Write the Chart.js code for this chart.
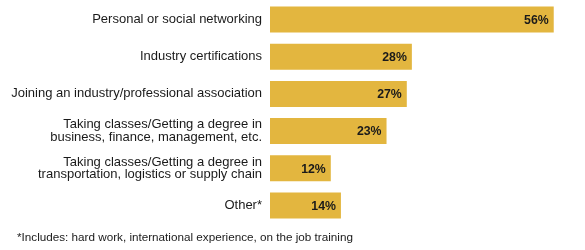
<!DOCTYPE html>
<html>
<head>
<meta charset="utf-8">
<script src="https://cdn.jsdelivr.net/npm/chart.js@4/dist/chart.umd.min.js"></script>
<style>
  html, body { margin: 0; padding: 0; background: #fff; }
  #wrap { width: 585px; height: 250px; position: relative; }
  #note {
    position: absolute; left: 17px; top: 230px;
    font: 11.7px 'Liberation Sans', Arial, Helvetica, sans-serif;
    line-height: 14px; color: #1a1a1a; white-space: nowrap;
  }
</style>
</head>
<body>
<div id="wrap"><canvas id="chart"></canvas><div id="note"></div></div>
<script>
const categories = [
  ['Personal or social networking'],
  ['Industry certifications'],
  ['Joining an industry/professional association'],
  ['Taking classes/Getting a degree in', 'business, finance, management, etc.'],
  ['Taking classes/Getting a degree in', 'transportation, logistics or supply chain'],
  ['Other*']
];
const shares = [56, 28, 27, 23, 12, 14];
const footnote = '*Includes: hard work, international experience, on the job training';

const FONT = "'Liberation Sans', Arial, Helvetica, sans-serif";

document.getElementById('note').textContent = footnote;

const barLabels = {
  id: 'barLabels',
  afterDatasetsDraw(chart) {
    const ctx = chart.ctx;
    const meta = chart.getDatasetMeta(0);
    ctx.save();
    ctx.font = 'bold 12.3px ' + FONT;
    ctx.fillStyle = '#1a1a1a';
    ctx.textAlign = 'right';
    ctx.textBaseline = 'middle';
    meta.data.forEach((bar, i) => {
      ctx.fillText(shares[i] + '%', bar.x - 5, bar.y + 1);
    });
    ctx.restore();
  }
};

const ctx = document.getElementById('chart').getContext('2d');
new Chart(ctx, {
  type: 'bar',
  data: {
    labels: categories,
    datasets: [
      {
        data: shares,
        backgroundColor: '#E3B63F',
        borderWidth: 0,
        categoryPercentage: 1,
        barPercentage: 0.7,
      },
    ],
  },
  options: {
    indexAxis: 'y',
    responsive: true,
    maintainAspectRatio: false,
    animation: false,
    layout: { padding: { top: 1, right: 11, left: 0, bottom: 26 } },
    plugins: {
      legend: { display: false },
      tooltip: { enabled: false },
    },
    scales: {
      x: {
        display: false,
        min: 0,
        max: 60,
      },
      y: {
        grid: { display: false, drawTicks: false },
        border: { display: false },
        ticks: {
          color: '#1a1a1a',
          padding: 8,
          font: { family: FONT, size: 13, lineHeight: 0.95 },
        },
        afterFit(scale) {
          scale.width = 270;
          scale.paddingTop = 0;
          scale.paddingBottom = 0;
        },
      },
    },
  },
  plugins: [barLabels],
});
</script>
</body>
</html>
